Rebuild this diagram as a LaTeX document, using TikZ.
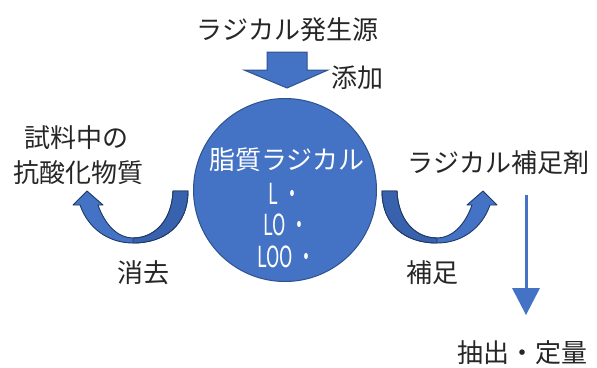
\documentclass[tikz,border=0pt]{standalone}
\usepackage{fontspec}
\setmainfont{Noto Sans CJK JP}
\newfontfamily\narrowfont{Noto Sans CJK JP}[FakeStretch=0.62]
\definecolor{fillblue}{HTML}{4472C4}
\definecolor{edgeblue}{HTML}{2F528F}
\definecolor{tailblue}{HTML}{3962AE}
\definecolor{darkedge}{HTML}{203864}
\definecolor{txt}{HTML}{262626}
\newcommand\myBandAll{(382,191) -- (397,191) .. controls (398,220) and (415,238) .. (437,238) .. controls (452,238) and (465,225) .. (472,205) -- (467,205) -- (483,191) -- (497,205) -- (490,205) .. controls (482,228) and (462,243) .. (437,243) .. controls (405,243) and (382,225) .. (382,191) -- cycle}
\newcommand\myBandTail{(382,191) -- (397,191) .. controls (398,220) and (415,238) .. (437,238) -- (437,243) .. controls (405,243) and (382,225) .. (382,191) -- cycle}
\begin{document}
\begin{tikzpicture}[x=1pt,y=-1pt,
  lbl/.style={font=\fontsize{26}{30}\selectfont, text=txt, inner sep=0pt},
  inlbl/.style={font=\fontsize{26}{30}\selectfont, text=white, inner sep=0pt},
  inlat/.style={font=\narrowfont\fontsize{29}{30}\selectfont, text=white, inner sep=0pt},
  band/.style={fill=fillblue, draw=darkedge, line width=0.9pt, line join=round},
  bandtail/.style={fill=tailblue, draw=darkedge, line width=0.9pt, line join=round}]
\useasboundingbox (0,0) rectangle (597,367);
% top label and block arrow
\node[lbl] (src) at (287.5,30) {ラジカル発生源};
\draw[fill=fillblue, draw=edgeblue, line width=1pt, line join=miter]
  (267,52) -- (307,52) -- (307,70) -- (328,70) -- (287,88) -- (244,70) -- (267,70) -- cycle;
\node[lbl] (add) at (357.5,78) {添加};
% core circle
\node[circle, draw=edgeblue, fill=fillblue, line width=1pt, minimum size=183pt, inner sep=0pt] (core) at (285,190) {};
\node[inlbl] (lipid) at (287,160) {脂質ラジカル};
\node[inlat] (l1) at (285,194) {L\kern5pt・};
\node[inlat] (l2) at (286,225) {LO\kern5pt・};
\node[inlat] (l3) at (286.5,257) {LOO\kern5pt・};
% left side
\node[lbl] (anti1) at (76.5,138) {試料中の};
\node[lbl] (anti2) at (78.5,173) {抗酸化物質};
\node[lbl] (elim) at (143.5,273) {消去};
\begin{scope}[shift={(570,0)}, xscale=-1]
  \path[band] \myBandAll;
  \path[bandtail] \myBandTail;
\end{scope}
% right side
\path[band] \myBandAll;
\path[bandtail] \myBandTail;
\node[lbl] (trap) at (498.5,163) {ラジカル補足剤};
\node[lbl] (cap) at (432.5,273) {補足};
\node[lbl] (ext) at (522.5,353) {抽出・定量};
\coordinate (dtop) at (526,195);
\coordinate (dbase) at (526,289);
\draw[fillblue, line width=3pt] (dtop) -- (dbase);
\fill[fillblue] (512,288) -- (540,288) -- (526,315) -- cycle;
\end{tikzpicture}
\end{document}
